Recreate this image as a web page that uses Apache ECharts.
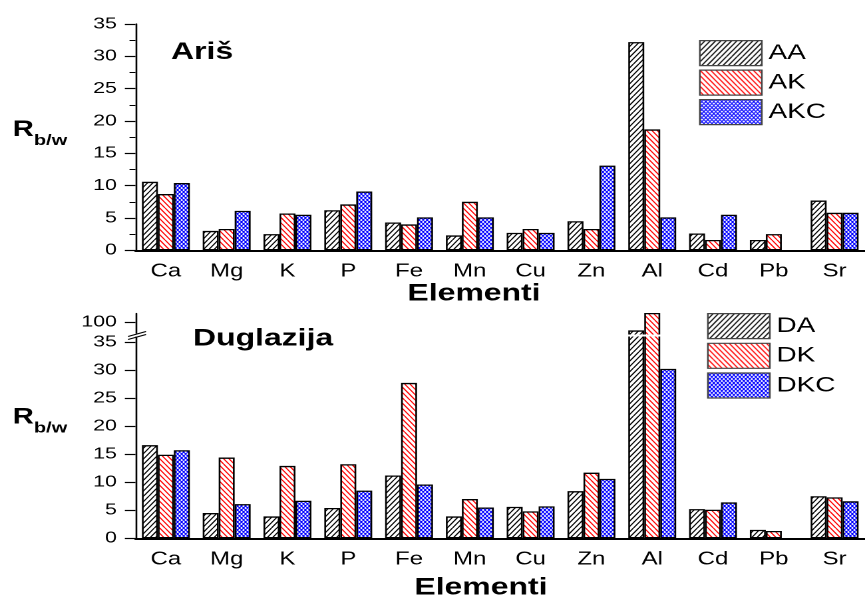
<!DOCTYPE html>
<html><head><meta charset="utf-8">
<script src="https://cdn.jsdelivr.net/npm/echarts@6/dist/echarts.min.js"></script>
<style>
html,body{margin:0;padding:0;background:#fff;overflow:hidden;width:865px;height:601px}
#chart{width:650px;height:601px;transform:scaleX(1.33077);transform-origin:0 0;}
</style>
</head><body><div id="chart"></div>
<script>
// ---------- data ----------
const categories = ['Ca','Mg','K','P','Fe','Mn','Cu','Zn','Al','Cd','Pb','Sr'];
const topNames = ['AA','AK','AKC'];
const bottomNames = ['DA','DK','DKC'];
const AA  = [10.6, 3.0, 2.5, 6.2, 4.3, 2.3, 2.7, 4.5, 32.2, 2.6, 1.6, 7.7];
const AK  = [8.7, 3.3, 5.7, 7.1, 4.0, 7.5, 3.3, 3.3, 18.7, 1.6, 2.5, 5.8];
const AKC = [10.4, 6.1, 5.5, 9.1, 5.1, 5.1, 2.7, 13.1, 5.1, 5.5, null, 5.8];
const DA  = [16.6, 4.5, 3.9, 5.4, 11.2, 3.9, 5.6, 8.4, 98.5, 5.2, 1.5, 7.5];
const DK  = [14.9, 14.4, 12.9, 13.2, 27.7, 7.0, 4.8, 11.7, 101.6, 5.1, 1.3, 7.3];
const DKC = [15.7, 6.1, 6.7, 8.5, 9.6, 5.5, 5.7, 10.6, 30.2, 6.4, null, 6.6];
const topAxisRange = [0, 35];
const bottomAxisRange = [0, 101.6];
const bottomBreak = [36, 97.8];
const bottomMajorTicks = [0, 5, 10, 15, 20, 25, 30, 35, 100];
const bottomMinorTicks = [2.5, 7.5, 12.5, 17.5, 22.5, 27.5, 32.5, 99.2, 100.8];
const tickStep = 5;

// ---------- hatch patterns (drawn at 2x, scaled back) ----------
function hatch(color, mode, lw, step) {
  const R = 2, W = 12 * R, H = 16 * R, d = step * R;
  const c = document.createElement('canvas');
  c.width = W; c.height = H;
  const g = c.getContext('2d');
  g.fillStyle = '#fff'; g.fillRect(0, 0, W, H);
  g.strokeStyle = color; g.lineWidth = lw * R;
  g.beginPath();
  for (let x0 = -2 * W; x0 <= 2 * W; x0 += d) {
    if (mode === '/' || mode === 'x') { g.moveTo(x0, H); g.lineTo(x0 + W, 0); }
    if (mode === '\\' || mode === 'x') { g.moveTo(x0, 0); g.lineTo(x0 + W, H); }
  }
  g.stroke();
  return { image: c, repeat: 'repeat', scaleX: 1 / R, scaleY: 1 / R };
}
const fills = [hatch('#000', '/', 1.0, 4), hatch('#ff0000', '\\', 1.0, 4), hatch('#0000ff', 'x', 0.85, 3)];

const FONT = 'Liberation Sans';
function barSeries(name, data, xi, yi, fill) {
  return { name, type: 'bar', data, xAxisIndex: xi, yAxisIndex: yi, barWidth: 12, barGap: '0%',
    itemStyle: { color: fill, borderColor: '#000', borderWidth: 1.3 },
    emphasis: { disabled: true } };
}
function labelX(gi) {
  return { gridIndex: gi, type: 'category', data: categories,
    axisLine: { lineStyle: { color: '#000', width: 2 } },
    axisTick: { alignWithLabel: true, length: 8, lineStyle: { color: '#000', width: 1.4 } },
    axisLabel: { color: '#000', fontSize: 18, fontFamily: FONT, margin: 12 },
    splitLine: { show: false } };
}
function tickX(gi) {
  return { gridIndex: gi, type: 'category', data: categories, position: 'bottom',
    axisLine: { show: false }, axisLabel: { show: false },
    axisTick: { length: 4, lineStyle: { color: '#000', width: 1.2 } }, splitLine: { show: false } };
}
const yLabelStyle = { color: '#000', fontSize: 16, fontFamily: FONT, margin: 14 };
const yTop = { gridIndex: 0, type: 'value', min: topAxisRange[0], max: topAxisRange[1], interval: tickStep,
  axisLine: { show: true, lineStyle: { color: '#000', width: 1.3 } },
  axisTick: { show: true, length: 8, lineStyle: { color: '#000', width: 1.2 } },
  minorTick: { show: true, splitNumber: 2, length: 4.5, lineStyle: { color: '#000', width: 1 } },
  splitLine: { show: false }, axisLabel: yLabelStyle };
const breakCfg = [{ start: bottomBreak[0], end: bottomBreak[1], gap: 0.36 }];
const yBottom = { gridIndex: 1, type: 'value', min: bottomAxisRange[0], max: bottomAxisRange[1],
  breaks: breakCfg,
  breakArea: { show: true, expandOnClick: false, zigzagAmplitude: 0, zigzagZ: 200,
    itemStyle: { color: '#fff', borderColor: '#fff', borderWidth: 0, opacity: 1 } },
  axisLine: { show: true, lineStyle: { color: '#000', width: 1.3 } },
  axisTick: { show: true, length: 8, customValues: bottomMajorTicks, lineStyle: { color: '#000', width: 1.2 } },
  minorTick: { show: false }, splitLine: { show: false },
  axisLabel: Object.assign({ customValues: bottomMajorTicks }, yLabelStyle) };
const yBottomMinor = { gridIndex: 1, type: 'value', min: bottomAxisRange[0], max: bottomAxisRange[1],
  breaks: breakCfg, breakArea: { show: false },
  axisLine: { show: false }, axisLabel: { show: false }, splitLine: { show: false },
  axisTick: { show: true, length: 4.5, customValues: bottomMinorTicks, lineStyle: { color: '#000', width: 1 } } };

function legendCfg(names, left, top, gap) {
  return { data: names, orient: 'vertical', left, top, z: 300, itemWidth: 46.6, itemHeight: 25, itemGap: gap,
    padding: 0, icon: 'rect', selectedMode: false,
    itemStyle: { borderColor: '#444', borderWidth: 1.2 },
    textStyle: { fontSize: 21, color: '#000', fontFamily: FONT } };
}
function txt(x, y, text, font, align) {
  return { type: 'text', x, y, z: 300, silent: true,
    style: { text, font, fill: '#000', textAlign: align || 'left', textVerticalAlign: 'middle' } };
}
const S = 1.33077;
function seg(x1, y1, x2, y2) {
  return { type: 'line', z: 300, silent: true, shape: { x1: x1 / S, y1, x2: x2 / S, y2 },
    style: { stroke: '#000', lineWidth: 1.1 } };
}

const chart = echarts.init(document.getElementById('chart'), null, { devicePixelRatio: 2 });
chart.setOption({
  animation: false,
  textStyle: { fontFamily: FONT },
  grid: [
    { left: 101.8, top: 24, width: 550.8, height: 226.3 },
    { left: 101.8, top: 313, width: 550.8, height: 225.3 }
  ],
  xAxis: [labelX(0), tickX(0), labelX(1), tickX(1)],
  yAxis: [yTop, yBottom, yBottomMinor],
  legend: [legendCfg(topNames, 525.3, 40, 3.3), legendCfg(bottomNames, 531.3, 313, 3.5)],
  series: [
    barSeries(topNames[0], AA, 0, 0, fills[0]),
    barSeries(topNames[1], AK, 0, 0, fills[1]),
    barSeries(topNames[2], AKC, 0, 0, fills[2]),
    barSeries(bottomNames[0], DA, 2, 1, fills[0]),
    barSeries(bottomNames[1], DK, 2, 1, fills[1]),
    barSeries(bottomNames[2], DKC, 2, 1, fills[2])
  ],
  graphic: [
    txt(128.5, 52.5, 'Ariš', 'bold 24px "Liberation Sans"'),
    txt(145, 339, 'Duglazija', 'bold 24px "Liberation Sans"'),
    txt(356.2, 294, 'Elementi', 'bold 24px "Liberation Sans"', 'center'),
    txt(361.4, 588, 'Elementi', 'bold 24px "Liberation Sans"', 'center'),
    txt(9.5, 130, 'R', 'bold 22px "Liberation Sans"'),
    txt(25.5, 141, 'b/w', 'bold 15px "Liberation Sans"'),
    txt(9.5, 417.5, 'R', 'bold 22px "Liberation Sans"'),
    txt(25.5, 428.5, 'b/w', 'bold 15px "Liberation Sans"'),
    { type: 'rect', z: 299, silent: true, shape: { x: 134 / S, y: 333.5, width: 5 / S, height: 2.5 }, style: { fill: '#fff' } },
    seg(128, 336.5, 146, 331.5),
    seg(128, 339.5, 146, 334.5)
  ]
});
</script></body></html>
